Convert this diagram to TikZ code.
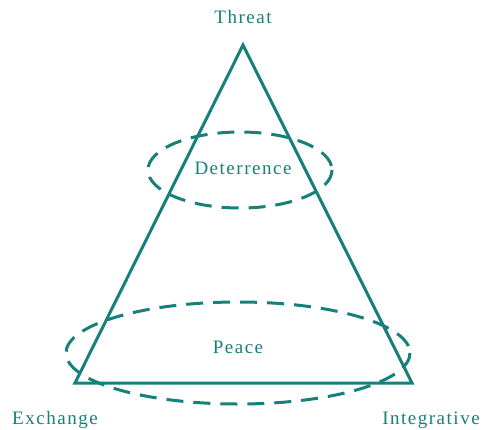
\documentclass[tikz,border=0pt]{standalone}
\usepackage{fontspec}
\usepackage{tikz}
\newfontfamily\lblfont{Liberation Serif}[LetterSpace=8]
\definecolor{teal}{HTML}{16807A}

\begin{document}
\begin{tikzpicture}[x=1pt, y=-1pt,
    side/.style={draw=teal, line width=3pt},
    ring/.style={draw=teal, line width=3pt, dash pattern=on 17pt off 10pt},
    lbl/.style={text=teal, font=\lblfont\fontsize{19}{21}\selectfont, inner sep=0pt}]
            \useasboundingbox (0,0) rectangle (482,429);
            \coordinate (top) at (243,45);
            \coordinate (left) at (75,383);
            \coordinate (right) at (412,383);
            \draw[side, line join=miter] (top) -- (left) -- (right) -- cycle;
            \draw[ring] (240,170) ellipse [x radius=92, y radius=38];
            \draw[ring] (238,353) ellipse [x radius=172, y radius=51];
            \node[lbl] (threat) at (243,17) {Threat};
            \node[lbl] (deter) at (243,168) {Deterrence};
            \node[lbl] (peace) at (238,347) {Peace};
            \node[lbl] (exch) at (55,420) {Exchange};
            \node[lbl] (integ) at (431,420) {Integrative};
        \end{tikzpicture}
\end{document}
